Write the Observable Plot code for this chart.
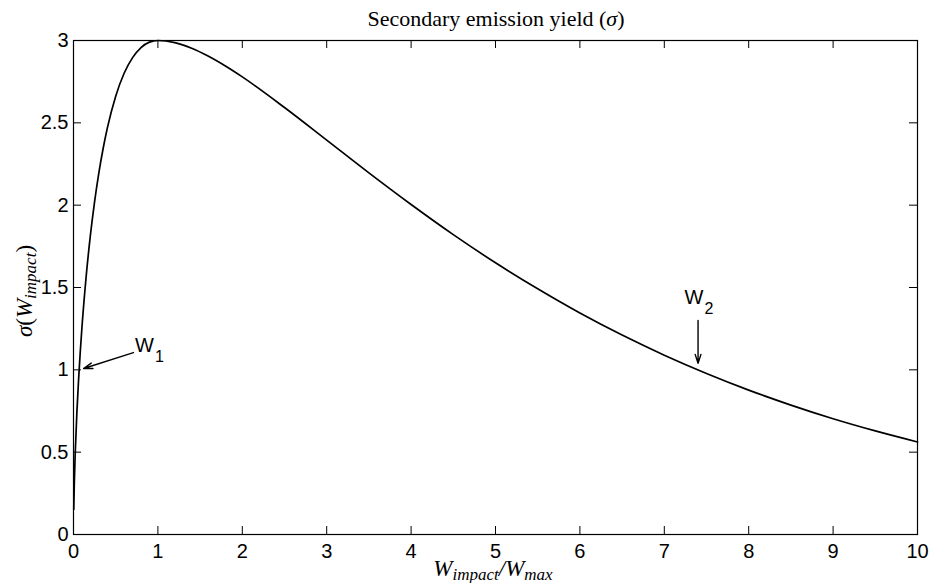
<!DOCTYPE html>
<html>
<head>
<meta charset="utf-8">
<script src="https://cdn.jsdelivr.net/npm/d3@7"></script>
<script src="https://cdn.jsdelivr.net/npm/@observablehq/plot@0.6"></script>
<style>
  html, body { margin: 0; padding: 0; background: #fff; }
</style>
</head>
<body>
<div id="chart"></div>
<script>
// Curve: W_impact/W_max vs sigma
const wValues = [0.003, 0.01, 0.02, 0.04, 0.06, 0.08, 0.1, 0.15, 0.2, 0.25, 0.3, 0.35, 0.4, 0.5, 0.6, 0.7, 0.8, 0.9, 1,
  1.2, 1.4, 1.6, 1.8, 2, 2.5, 3, 3.5, 4, 4.5, 5, 5.5, 6, 6.5, 7, 7.5, 8, 8.5, 9, 9.5, 10];
const sigmaValues = [0.152, 0.319, 0.487, 0.740, 0.939, 1.108, 1.257, 1.567, 1.816, 2.022, 2.195, 2.341, 2.466, 2.662, 2.801, 2.896, 2.957, 2.990, 3.000,
  2.987, 2.953, 2.904, 2.845, 2.779, 2.593, 2.395, 2.196, 2.004, 1.821, 1.650, 1.492, 1.345, 1.211, 1.089, 0.978, 0.877, 0.786, 0.703, 0.629, 0.562];

const xTicks = [0, 1, 2, 3, 4, 5, 6, 7, 8, 9, 10];
const yTicks = [0, 0.5, 1, 1.5, 2, 2.5, 3];
const yTickLabels = ["0", "0.5", "1", "1.5", "2", "2.5", "3"];

// Annotations (W1, W2) with arrows
const annoLabels = ["W", "W"];
const annoSubs = ["1", "2"];
const annoTextX = [0.841, 7.35];
const annoTextY = [1.145, 1.436];
const arrowX1 = [0.71, 7.4];
const arrowY1 = [1.105, 1.30];
const arrowX2 = [0.12, 7.4];
const arrowY2 = [1.008, 1.04];

const curve = wValues.map((w, i) => ({w, s: sigmaValues[i]}));
const annos = annoLabels.map((t, i) => ({t, sub: annoSubs[i], x: annoTextX[i], y: annoTextY[i]}));
const arrows = arrowX1.map((x1, i) => ({x1, y1: arrowY1[i], x2: arrowX2[i], y2: arrowY2[i]}));

const W = 934, H = 583, mL = 73, mR = 17, mT = 40, mB = 49;
const fw = W - mL - mR, fh = H - mT - mB;
const tickLen = 8;

const plot = Plot.plot({
  width: W, height: H,
  marginLeft: mL, marginRight: mR, marginTop: mT, marginBottom: mB,
  x: {domain: [0, 10]},
  y: {domain: [0, 3]},
  style: {fontFamily: "'Liberation Sans', Arial, sans-serif", fontSize: "20px", color: "#000", background: "#fff"},
  marks: [
    Plot.axisX({ticks: xTicks, tickSize: 0, tickPadding: 9, fontSize: 20, label: null, tickFormat: d => String(d)}),
    Plot.axisY({ticks: yTicks, tickSize: 0, tickPadding: 5, fontSize: 20, label: null, tickFormat: d => yTickLabels[yTicks.indexOf(d)]}),
    // inward ticks on all four sides
    Plot.tickX(xTicks, {x: d => d, insetTop: fh - tickLen, stroke: "#000", strokeWidth: 1}),
    Plot.tickX(xTicks, {x: d => d, insetBottom: fh - tickLen, stroke: "#000", strokeWidth: 1}),
    Plot.tickY(yTicks, {y: d => d, insetRight: fw - tickLen, stroke: "#000", strokeWidth: 1}),
    Plot.tickY(yTicks, {y: d => d, insetLeft: fw - tickLen, stroke: "#000", strokeWidth: 1}),
    Plot.frame({stroke: "#000", strokeWidth: 1.2}),
    Plot.line(curve, {x: "w", y: "s", stroke: "#000", strokeWidth: 1.7, curve: "monotone-x"}),
    Plot.arrow(arrows, {x1: "x1", y1: "y1", x2: "x2", y2: "y2", stroke: "#000", strokeWidth: 1.4, headLength: 10, headAngle: 36}),
    Plot.text(annos, {x: "x", y: "y", text: "t", fontSize: 20, fill: "#000"}),
    Plot.text(annos, {x: "x", y: "y", text: "sub", fontSize: 16, dx: 15, dy: 11, fill: "#000"})
  ]
});

document.getElementById("chart").appendChild(plot);

const svg = d3.select(plot);
const serif = "'Liberation Serif', 'Times New Roman', serif";

// Title
const title = svg.append("text")
  .attr("x", 496).attr("y", 26)
  .attr("text-anchor", "middle")
  .attr("font-family", serif).attr("font-size", 22).attr("fill", "#000");
title.append("tspan").text("Secondary emission yield (");
title.append("tspan").attr("font-style", "italic").text("σ");
title.append("tspan").text(")");

// X label
const xl = svg.append("text")
  .attr("x", 493).attr("y", 576)
  .attr("text-anchor", "middle")
  .attr("font-family", serif).attr("font-size", 23).attr("font-style", "italic").attr("fill", "#000");
xl.append("tspan").text("W");
xl.append("tspan").attr("font-size", 17).attr("dy", 4).text("impact");
xl.append("tspan").attr("dy", -4).text("/W");
xl.append("tspan").attr("font-size", 17).attr("dy", 4).text("max");

// Y label
const yl = svg.append("text")
  .attr("transform", "translate(32, 291) rotate(-90)")
  .attr("text-anchor", "middle")
  .attr("font-family", serif).attr("font-size", 23).attr("fill", "#000");
yl.append("tspan").attr("font-style", "italic").text("σ");
yl.append("tspan").text("(");
yl.append("tspan").attr("font-style", "italic").text("W");
yl.append("tspan").attr("font-style", "italic").attr("font-size", 17).attr("dy", 4).text("impact");
yl.append("tspan").attr("dy", -4).text(")");
</script>
</body>
</html>
